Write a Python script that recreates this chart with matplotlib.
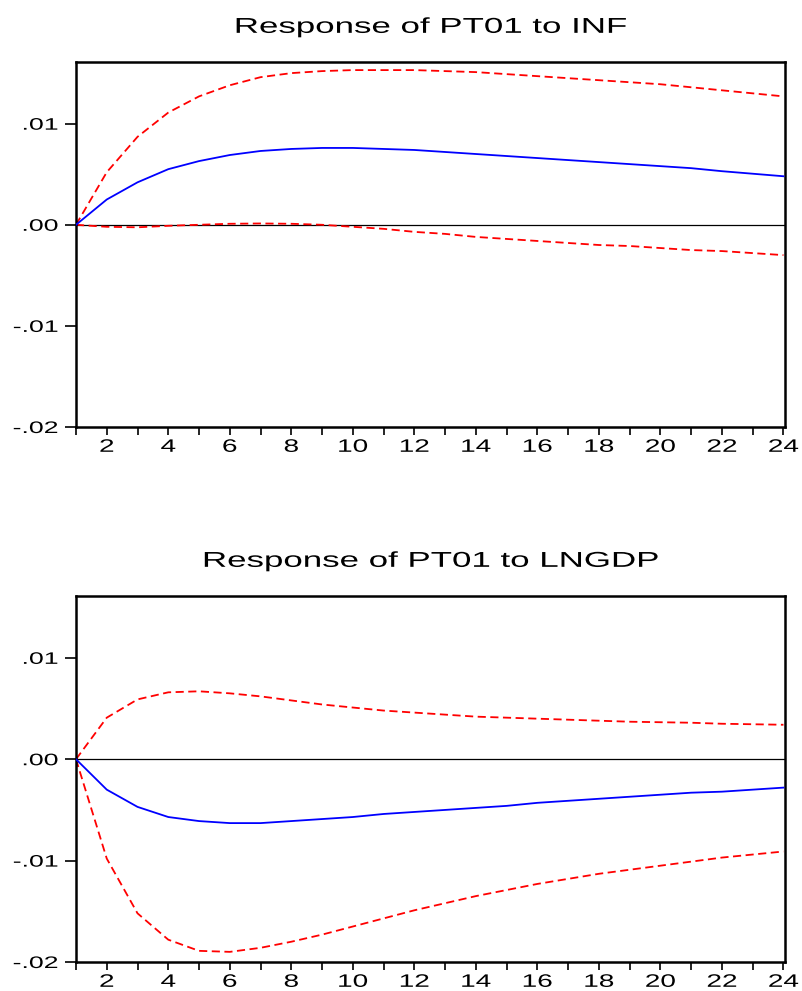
import matplotlib
matplotlib.use("Agg")
import matplotlib.pyplot as plt
from matplotlib.patheffects import AbstractPathEffect
from matplotlib.transforms import Affine2D

periods = list(range(1, 25))

# Response of PT01 to INF
inf_resp = [0.0, 0.0025, 0.0042, 0.0055, 0.0063, 0.0069, 0.0073, 0.0075, 0.0076, 0.0076,
            0.0075, 0.0074, 0.0072, 0.0070, 0.0068, 0.0066, 0.0064, 0.0062, 0.0060, 0.0058,
            0.0056, 0.0053, 0.00505, 0.0048]
inf_upper = [0.0, 0.0052, 0.0087, 0.0111, 0.0127, 0.0138, 0.0146, 0.0150, 0.0152, 0.0153,
             0.0153, 0.0153, 0.0152, 0.0151, 0.0149, 0.0147, 0.0145, 0.0143, 0.0141, 0.0139,
             0.0136, 0.0133, 0.0130, 0.0127]
inf_lower = [0.0, -0.0002, -0.00025, -0.0001, 0.0, 0.0001, 0.00013, 0.0001, 0.0, -0.0002,
             -0.0004, -0.0007, -0.0009, -0.0012, -0.0014, -0.0016, -0.0018, -0.0020, -0.0021, -0.0023,
             -0.0025, -0.0026, -0.0028, -0.0030]

# Response of PT01 to LNGDP
gdp_resp = [0.0, -0.0030, -0.0047, -0.0057, -0.0061, -0.0063, -0.0063, -0.0061, -0.0059, -0.0057,
            -0.0054, -0.0052, -0.0050, -0.0048, -0.0046, -0.0043, -0.0041, -0.0039, -0.0037, -0.0035,
            -0.0033, -0.0032, -0.0030, -0.0028]
gdp_upper = [0.0, 0.0041, 0.0059, 0.0066, 0.0067, 0.0065, 0.0062, 0.0058, 0.0054, 0.0051,
             0.0048, 0.0046, 0.0044, 0.0042, 0.0041, 0.0040, 0.0039, 0.0038, 0.0037, 0.00365,
             0.0036, 0.0035, 0.00345, 0.0034]
gdp_lower = [0.0, -0.0098, -0.0152, -0.0178, -0.0189, -0.0190, -0.0186, -0.0180, -0.0173, -0.0165,
             -0.0157, -0.0149, -0.0142, -0.0135, -0.0129, -0.0123, -0.0118, -0.0113, -0.0109, -0.0105,
             -0.0101, -0.0097, -0.0094, -0.0091]

titles = ["Response of PT01 to INF", "Response of PT01 to LNGDP"]
yticks = [-0.02, -0.01, 0.0, 0.01]
yticklabels = ["-.02", "-.01", ".00", ".01"]
xticks_major = list(range(2, 25, 2))
xticklabels = [str(v) for v in xticks_major]


class StretchX(AbstractPathEffect):
    """Stretch text horizontally about a reference edge (the text stays real text)."""
    def __init__(self, sx, align="center"):
        super().__init__()
        self.sx = sx
        self.align = align

    def draw_path(self, renderer, gc, tpath, affine, rgbFace=None):
        ext = tpath.get_extents(affine)
        if self.align == "right":
            cx = ext.x1
        elif self.align == "left":
            cx = ext.x0
        else:
            cx = 0.5 * (ext.x0 + ext.x1)
        new_affine = affine + Affine2D().translate(-cx, 0).scale(self.sx, 1.0).translate(cx, 0)
        renderer.draw_path(gc, tpath, new_affine, rgbFace)


plt.rcParams['font.family'] = ['Liberation Sans', 'DejaVu Sans']

fig = plt.figure(figsize=(8.02, 9.91), dpi=100)
W, H = 802, 991
positions = [(76, 62, 785, 427), (76, 596, 785, 962)]
panels = [(inf_resp, inf_upper, inf_lower), (gdp_resp, gdp_upper, gdp_lower)]

for (x0, y0, x1, y1), (resp, up, lo), title in zip(positions, panels, titles):
    ax = fig.add_axes([x0 / W, 1 - y1 / H, (x1 - x0) / W, (y1 - y0) / H])
    ax.axhline(0, color='black', lw=0.9, zorder=1)
    ax.plot(periods, resp, color='#0000ff', lw=1.3, zorder=3)
    ax.plot(periods, up, color='#ff0000', lw=1.3, ls=(0, (4.5, 2.5)), zorder=2)
    ax.plot(periods, lo, color='#ff0000', lw=1.3, ls=(0, (4.5, 2.5)), zorder=2)
    ax.set_xlim(1, 24.05)
    ax.set_ylim(-0.02, 0.0161)
    ax.set_yticks(yticks)
    ax.set_yticklabels(yticklabels, fontsize=12)
    ax.set_xticks(periods, minor=True)
    ax.set_xticks(xticks_major)
    ax.set_xticklabels(xticklabels, fontsize=13)
    ax.tick_params(axis='y', direction='out', length=8, width=1.2, pad=5)
    ax.tick_params(axis='x', which='both', direction='out', length=5.5, width=1.2, pad=3)
    for lab in ax.get_yticklabels():
        lab.set_path_effects([StretchX(1.6, "right")])
    for lab in ax.get_xticklabels():
        lab.set_path_effects([StretchX(1.55, "center")])
    for s in ax.spines.values():
        s.set_linewidth(1.8)
    t = ax.set_title(title, fontsize=15.5, pad=21)
    t.set_path_effects([StretchX(1.62, "center")])

fig.savefig("out.png", dpi=100)
